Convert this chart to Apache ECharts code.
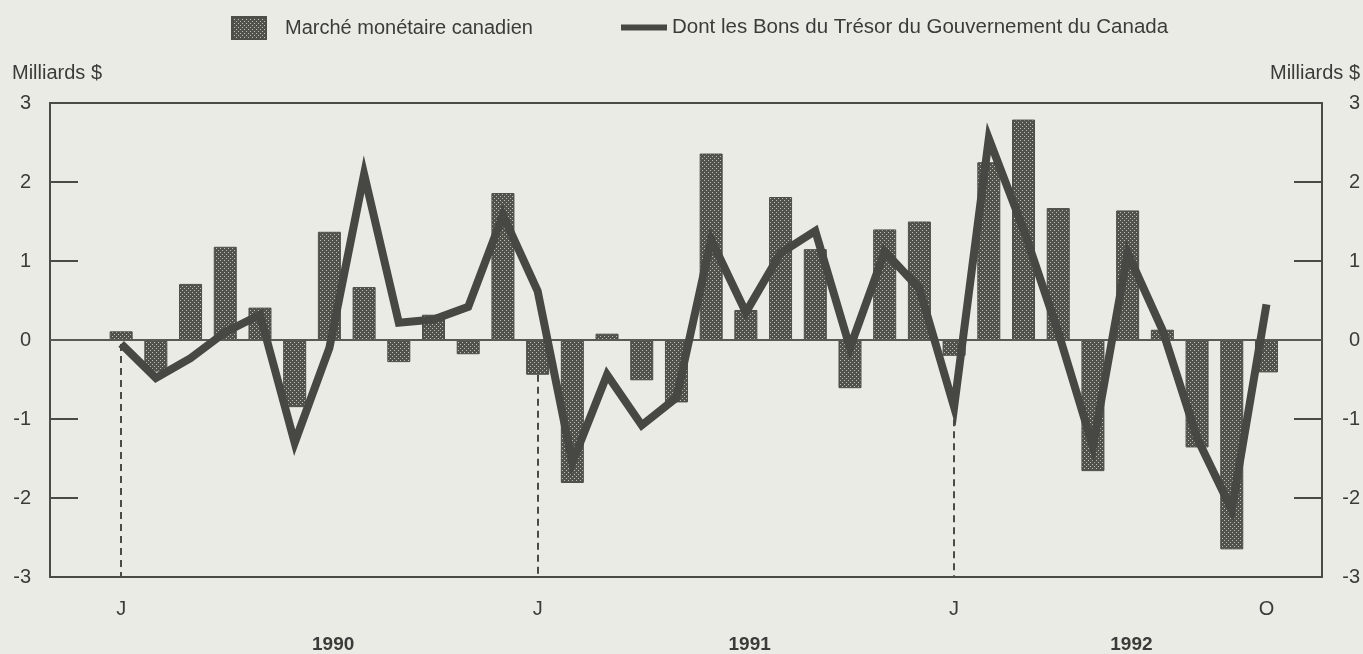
<!DOCTYPE html>
<html>
<head>
<meta charset="utf-8">
<script src="https://cdn.jsdelivr.net/npm/echarts@6/dist/echarts.min.js"></script>
<style>
  html, body { margin: 0; padding: 0; background: #ebebe6; }
  #chart { width: 1363px; height: 654px; }
</style>
</head>
<body>
<div id="chart"></div>
<script>
// Monthly periods, January 1990 to October 1992
const periods = [
  '1990-01','1990-02','1990-03','1990-04','1990-05','1990-06','1990-07','1990-08','1990-09','1990-10','1990-11','1990-12',
  '1991-01','1991-02','1991-03','1991-04','1991-05','1991-06','1991-07','1991-08','1991-09','1991-10','1991-11','1991-12',
  '1992-01','1992-02','1992-03','1992-04','1992-05','1992-06','1992-07','1992-08','1992-09','1992-10'
];

// Net change in the Canadian money market, billions of dollars
const marcheMonetaire = [
   0.11, -0.40,  0.71,  1.18,  0.41, -0.85,  1.37,  0.67, -0.28,  0.32, -0.18,  1.86,
  -0.44, -1.81,  0.08, -0.51, -0.79,  2.36,  0.38,  1.81,  1.15, -0.61,  1.40,  1.50,
  -0.20,  2.25,  2.79,  1.67, -1.66,  1.64,  0.13, -1.36, -2.65, -0.41
];

// Of which: Government of Canada Treasury bills, billions of dollars
const bonsDuTresor = [
  -0.05, -0.48, -0.23,  0.10,  0.32, -1.30, -0.10,  2.10,  0.22,  0.26,  0.42,  1.58,
   0.62, -1.55, -0.44, -1.08, -0.73,  1.27,  0.35,  1.10,  1.38, -0.10,  1.12,  0.65,
  -0.85,  2.55,  1.40,  0.10, -1.35,  1.10,  0.13, -1.24, -2.15,  0.45
];

const monthInitials = ['J','F','M','A','M','J','J','A','S','O','N','D'];
const yearLabels = ['1990', '1991', '1992'];
const yTicks = [-3, -2, -1, 0, 1, 2, 3];
const seriesNames = ['Marché monétaire canadien', 'Dont les Bons du Trésor du Gouvernement du Canada'];
const unitLabel = 'Milliards $';

const FONT = '"Liberation Sans", Arial, Helvetica, sans-serif';
const INK = '#3b3b39';
const FRAME = '#4a4a47';

// Halftone fill for the bars
function halftone() {
  const c = document.createElement('canvas');
  c.width = 4; c.height = 4;
  const g = c.getContext('2d');
  g.fillStyle = '#52524d';
  g.fillRect(0, 0, 4, 4);
  g.fillStyle = '#bebeb6';
  g.fillRect(0, 0, 1, 1);
  g.fillRect(2, 2, 1, 1);
  return c;
}

const barData = marcheMonetaire.map((v, i) => [i, v]);
const lineData = bonsDuTresor.map((v, i) => [i, v]);

// Month ticks: each January plus the last month shown
const monthOf = p => parseInt(p.slice(5), 10);
const monthTicks = periods
  .map((p, i) => i)
  .filter(i => monthOf(periods[i]) === 1 || i === periods.length - 1);

// Year captions start at the middle of each year's span of months
const yearTicks = yearLabels.map(y => {
  const idx = periods.map((p, i) => (p.startsWith(y) ? i : -1)).filter(i => i >= 0);
  return (idx[0] + idx[idx.length - 1]) / 2;
});

// Dashed guides drop from each January's lowest mark to the floor
const januaryGuides = periods
  .map((p, i) => i)
  .filter(i => monthOf(periods[i]) === 1)
  .map(i => [
    { coord: [i, Math.min(marcheMonetaire[i], bonsDuTresor[i], 0)] },
    { coord: [i, yTicks[0]] }
  ]);

const chart = echarts.init(document.getElementById('chart'), null, { renderer: 'canvas' });

const option = {
  animation: false,
  backgroundColor: '#ebebe6',
  textStyle: { fontFamily: FONT },
  grid: {
    left: 50, right: 41, top: 103, bottom: 76,
    show: true, borderColor: FRAME, borderWidth: 2, backgroundColor: 'transparent'
  },
  legend: [
    {
      left: 231, top: 16, padding: 0,
      itemWidth: 34, itemHeight: 22, icon: 'rect',
      selectedMode: false,
      data: [seriesNames[0]],
      textStyle: { fontFamily: FONT, fontSize: 20, color: INK, padding: [0, 0, 0, 14] }
    },
    {
      left: 621, top: 17, padding: 0,
      itemWidth: 46, itemHeight: 6, icon: 'rect',
      selectedMode: false,
      data: [seriesNames[1]],
      textStyle: { fontFamily: FONT, fontSize: 20.5, color: INK }
    }
  ],
  xAxis: [
    {
      type: 'value', min: -2.05, max: 34.6,
      axisLine: { show: false, onZero: false },
      axisTick: { show: false },
      splitLine: { show: false },
      axisLabel: {
        customValues: monthTicks,
        formatter: v => monthInitials[monthOf(periods[Math.round(v)]) - 1],
        margin: 22, fontSize: 20, color: INK, fontFamily: FONT
      }
    },
    {
      type: 'value', min: -2.05, max: 34.6, position: 'bottom',
      axisLine: { show: false, onZero: false },
      axisTick: { show: false },
      splitLine: { show: false },
      axisLabel: {
        customValues: yearTicks,
        formatter: v => yearLabels[yearTicks.indexOf(v)],
        align: 'left',
        margin: 58, fontSize: 19, fontWeight: 'bold', color: INK, fontFamily: FONT
      }
    }
  ],
  yAxis: [
    {
      type: 'value', position: 'left', min: yTicks[0], max: yTicks[yTicks.length - 1], interval: 1,
      axisLine: { show: false, onZero: false },
      axisTick: { show: true, inside: true, length: 28, lineStyle: { color: FRAME, width: 2 } },
      splitLine: { show: false },
      axisLabel: { margin: 19, fontSize: 20, color: INK, fontFamily: FONT }
    },
    {
      type: 'value', position: 'right', min: yTicks[0], max: yTicks[yTicks.length - 1], interval: 1,
      axisLine: { show: false, onZero: false },
      axisTick: { show: true, inside: true, length: 28, lineStyle: { color: FRAME, width: 2 } },
      splitLine: { show: false },
      axisLabel: { margin: 38, align: 'right', fontSize: 20, color: INK, fontFamily: FONT }
    }
  ],
  graphic: [
    { type: 'text', left: 12, top: 63, style: { text: unitLabel, font: '20px ' + FONT, fill: INK } },
    { type: 'text', right: 3, top: 63, style: { text: unitLabel, font: '20px ' + FONT, fill: INK } }
  ],
  series: [
    {
      name: seriesNames[0],
      type: 'bar',
      data: barData,
      barWidth: 23,
      itemStyle: {
        color: { image: halftone(), repeat: 'repeat' },
        borderColor: '#4e4e49', borderWidth: 1
      },
      markLine: {
        silent: true,
        symbol: ['none', 'none'],
        label: { show: false },
        data: [
          { yAxis: 0, lineStyle: { type: 'solid', width: 2, color: '#595955' } },
          ...januaryGuides.map(g => [
            Object.assign({}, g[0], { lineStyle: { type: [7, 5], width: 2, color: FRAME } }),
            g[1]
          ])
        ]
      }
    },
    {
      name: seriesNames[1],
      type: 'line',
      data: lineData,
      z: 5,
      symbol: 'none',
      color: '#474744',
      lineStyle: { color: '#474744', width: 8, join: 'miter', miterLimit: 6, cap: 'butt' }
    }
  ]
};

chart.setOption(option);
</script>
</body>
</html>
